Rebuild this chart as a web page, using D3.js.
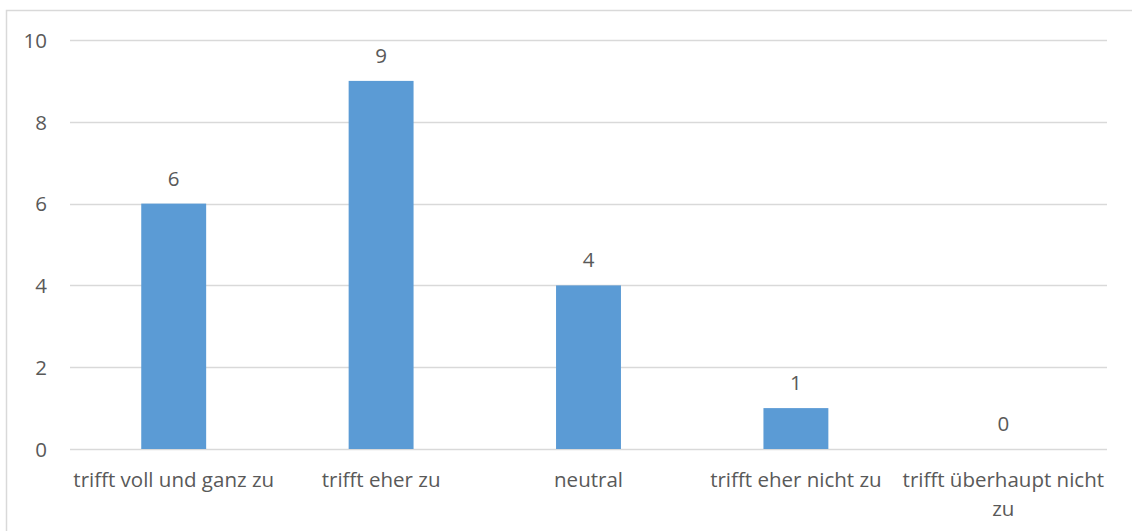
<!DOCTYPE html>
<html>
<head>
<meta charset="utf-8">
<script src="https://cdn.jsdelivr.net/npm/d3@7"></script>
<style>
  html, body { margin: 0; padding: 0; background: #fff; }
  svg { display: block; }
  svg text { font-family: "Open Sans", "Liberation Sans", sans-serif; fill: #595959; font-size: 20.5px; }
</style>
</head>
<body>
<svg id="chart" width="1132" height="531"></svg>
<script>
const categories = ["trifft voll und ganz zu", "trifft eher zu", "neutral", "trifft eher nicht zu", "trifft überhaupt nicht zu"];
const values = [6, 9, 4, 1, 0];
const yTicks = [0, 2, 4, 6, 8, 10];

const W = 1132, H = 531;
const margin = { left: 70, right: 25, top: 40, bottom: 82 };
const FS = "20.5px";
const svg = d3.select("#chart");

// outer chart border
svg.append("rect")
  .attr("x", 6.5).attr("y", 10.5)
  .attr("width", 1140).attr("height", 540)
  .attr("fill", "none").attr("stroke", "#d9d9d9").attr("stroke-width", 1.5);

const x = d3.scaleBand().domain(categories).range([margin.left, W - margin.right]).padding(0);
const y = d3.scaleLinear().domain([0, 10]).range([H - margin.bottom, margin.top]);

// gridlines
svg.append("g").selectAll("line").data(yTicks).join("line")
  .attr("x1", margin.left).attr("x2", W - margin.right)
  .attr("y1", d => Math.round(y(d)) + 0.5).attr("y2", d => Math.round(y(d)) + 0.5)
  .attr("stroke", "#d9d9d9").attr("stroke-width", 1.3);

// y axis labels
const yAxis = d3.axisLeft(y).tickValues(yTicks).tickSize(0).tickPadding(0);
const gy = svg.append("g").attr("transform", `translate(${margin.left - 23},0)`).call(yAxis);
gy.attr("font-size", null).attr("font-family", null);
gy.select(".domain").remove();
gy.selectAll("text").style("font-size", FS).style("fill", "#595959").attr("dy", "0.36em");

// bars
const barW = x.bandwidth() * 0.313;
svg.append("g").selectAll("rect").data(values).join("rect")
  .attr("x", (d, i) => x(categories[i]) + x.bandwidth() / 2 - barW / 2)
  .attr("y", d => y(d))
  .attr("width", barW)
  .attr("height", d => y(0) - y(d))
  .attr("fill", "#5b9bd5");

// data labels
svg.append("g").selectAll("text").data(values).join("text")
  .attr("x", (d, i) => x(categories[i]) + x.bandwidth() / 2)
  .attr("y", d => y(d) - 18)
  .attr("text-anchor", "middle")
  .style("font-size", FS)
  .text(d => d);

// x axis labels with wrapping
const xAxis = d3.axisBottom(x).tickSize(0).tickPadding(0);
const gx = svg.append("g").attr("transform", `translate(0,${y(0)})`).call(xAxis);
gx.attr("font-size", null).attr("font-family", null);
gx.select(".domain").remove();
gx.selectAll("text").each(function(d) {
  const t = d3.select(this);
  t.style("font-size", FS).style("fill", "#595959")
   .attr("dy", null).attr("y", 0).text(null);
  const words = d.split(" ");
  const maxW = x.bandwidth();
  let n = 0, cur = [];
  let tsp = t.append("tspan").attr("x", 0).attr("y", 38);
  words.forEach(w => {
    cur.push(w);
    tsp.text(cur.join(" "));
    if (tsp.node().getComputedTextLength() > maxW && cur.length > 1) {
      cur.pop();
      tsp.text(cur.join(" "));
      cur = [w];
      n += 1;
      tsp = t.append("tspan").attr("x", 0).attr("y", 38 + 29 * n).text(w);
    }
  });
});
</script>
</body>
</html>
